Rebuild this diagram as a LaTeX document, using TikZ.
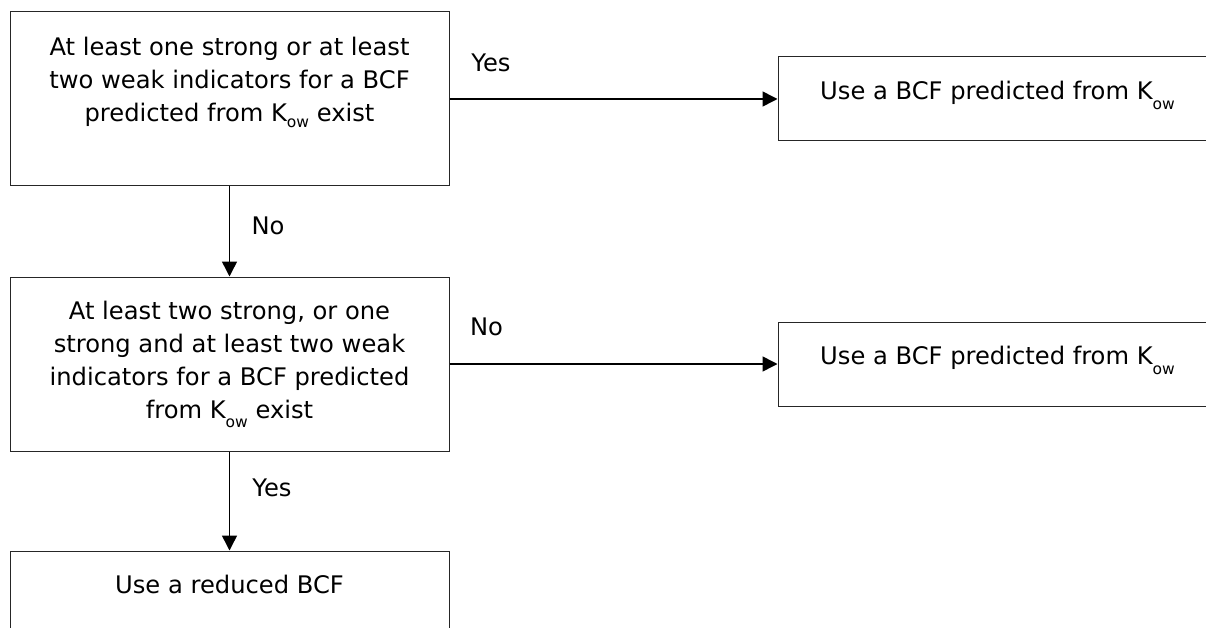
\documentclass[tikz,border=0pt]{standalone}
\usepackage{fontspec}
\setmainfont{DejaVu Sans}
\usetikzlibrary{arrows.meta}
\newcommand{\kow}[1]{K\raisebox{-#1pt}{\fontsize{15.5}{15.5}\selectfont ow}}
\begin{document}
\begin{tikzpicture}[x=1pt,y=-1pt,
  box/.style={draw=black!85,line width=1pt,inner sep=0pt,minimum width=439pt},
  tall/.style={box,minimum height=174pt},
  short/.style={box,minimum height=84pt},
  txt/.style={inner sep=0pt,align=center,font=\fontsize{24.2}{33}\selectfont},
  lbl/.style={inner sep=0pt,font=\fontsize{24.2}{33}\selectfont},
  conn/.style={line width=1.5pt,-{Triangle[length=15pt,width=15pt]}}]
\useasboundingbox (0,0) rectangle (1206,628);
\fill[white] (0,0) rectangle (1206,628);
\clip (0,0) rectangle (1206,628);
\node[tall] (b1) at (229.5,99) {};
\node[tall] (b2) at (229.5,364) {};
\node[short] (b3) at (229.5,593) {};
\node[short] (b4) at (997.5,99) {};
\node[short] (b5) at (997.5,364) {};
\node[txt,anchor=north] (t1) at (229.5,37) {At least one strong or at least\\two weak indicators for a BCF\\predicted from \kow{6} exist};
\node[txt,anchor=north] (t2) at (229.5,301) {At least two strong, or one\\strong and at least two weak\\indicators for a BCF predicted\\from \kow{9} exist};
\node[txt,anchor=base] (t3) at (229.5,593) {Use a reduced BCF};
\node[txt,anchor=base] (t4) at (997.5,100) {Use a BCF predicted from \kow{10}};
\node[txt,anchor=base] (t5) at (997.5,364) {Use a BCF predicted from \kow{10}};
\draw[conn] (b1.east) -- (b4.west);
\draw[conn] (b1.south) -- (b2.north);
\draw[conn] (b2.east) -- (b5.west);
\draw[conn] (b2.south) -- (b3.north);
\node[lbl,anchor=base] (l1) at (491,72) {Yes};
\node[lbl,anchor=base] (l2) at (268,234) {No};
\node[lbl,anchor=base] (l3) at (486.5,335) {No};
\node[lbl,anchor=base] (l4) at (272,496) {Yes};
\end{tikzpicture}
\end{document}
